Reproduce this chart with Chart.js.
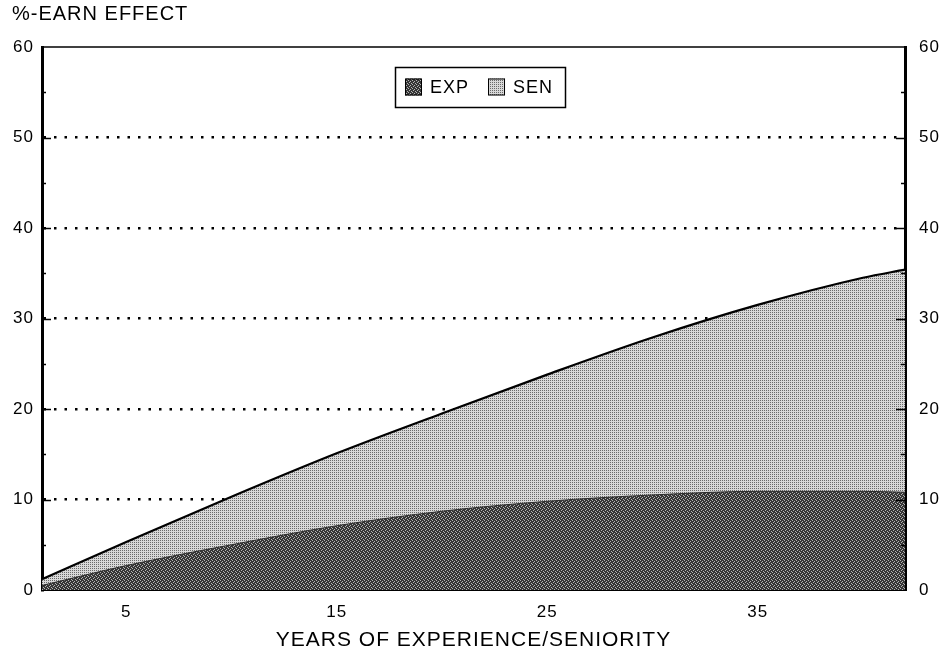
<!DOCTYPE html>
<html><head><meta charset="utf-8">
<script src="https://cdn.jsdelivr.net/npm/chart.js@4/dist/chart.umd.min.js"></script>
<style>html,body{margin:0;padding:0;background:#fff}#wrap{width:951px;height:655px;position:relative}</style>
</head><body><div id="wrap"><canvas id="c"></canvas></div>
<script>
const years = [1, 5, 10, 15, 20, 25, 30, 35, 40, 42];
const expValues = [0.5, 2.7, 5.0, 7.1, 8.7, 9.8, 10.5, 10.9, 10.9, 10.8];
const senValues = [0.7, 2.6, 5.3, 8.0, 10.8, 14.0, 17.4, 20.6, 23.6, 24.6];
const xTickLabels = [5, 15, 25, 35];
const yTickLabels = [0, 10, 20, 30, 40, 50, 60];
const seriesNames = ['EXP', 'SEN'];
const yTitle = '%-EARN EFFECT';
const xTitle = 'YEARS OF EXPERIENCE/SENIORITY';

const FONT = "'Liberation Sans', Arial, Helvetica, sans-serif";
const SPACING = '1px';

function makePattern(size, base, light, cells) {
  const c = document.createElement('canvas');
  c.width = size; c.height = size;
  const g = c.getContext('2d');
  g.fillStyle = base; g.fillRect(0, 0, size, size);
  g.fillStyle = light;
  cells.forEach(([x, y]) => g.fillRect(x, y, 1, 1));
  return g.createPattern(c, 'repeat');
}
const expPattern = makePattern(4, '#363636', '#b4b4b4', [[0,0],[2,1],[1,2],[3,3]]);
const senPattern = makePattern(2, '#d8d8d8', '#6a6a6a', [[0,0]]);
const fills = [expPattern, senPattern];

const pts = vals => years.map((x, i) => ({x, y: vals[i]}));

function setSpacing(chart) { if ('letterSpacing' in chart.ctx) chart.ctx.letterSpacing = SPACING; }

const decorPlugin = {
  id: 'decor',
  beforeUpdate: setSpacing,
  beforeLayout: setSpacing,
  beforeDraw: setSpacing,
  afterDatasetsDraw(chart) {
    const {ctx, chartArea: ca, scales} = chart;
    const y = scales.y;
    ctx.save();
    ctx.strokeStyle = '#000';
    ctx.lineWidth = 1.5;
    for (let v = 5; v < 60; v += 5) {
      const py = Math.round(y.getPixelForValue(v)) + 0.5;
      const len = v % 10 === 0 ? 9 : 4;
      ctx.beginPath(); ctx.moveTo(ca.left, py); ctx.lineTo(ca.left + len, py); ctx.stroke();
      ctx.beginPath(); ctx.moveTo(ca.right, py); ctx.lineTo(ca.right - len, py); ctx.stroke();
    }
    ctx.beginPath(); ctx.moveTo(ca.left, ca.top); ctx.lineTo(ca.right, ca.top); ctx.stroke();
    ctx.restore();
  },
  afterDraw(chart) {
    const {ctx, chartArea: ca} = chart;
    ctx.save();
    ctx.font = '18px ' + FONT;
    ctx.textBaseline = 'middle';
    const sq = 17, gapTxt = 8, gapItem = 19, padX = 10, padR = 12;
    const widths = seriesNames.map(n => ctx.measureText(n).width);
    let inner = 0;
    widths.forEach((w, i) => { inner += sq + gapTxt + w + (i < widths.length - 1 ? gapItem : 0); });
    const boxW = Math.round(inner + padX + padR), boxH = 40;
    const cx = ca.left + (ca.right - ca.left) * 0.508;
    const bx = Math.round(cx - boxW / 2), by = Math.round(ca.top + 20);
    ctx.fillStyle = '#fff';
    ctx.fillRect(bx, by, boxW, boxH);
    ctx.strokeStyle = '#000'; ctx.lineWidth = 1.5;
    ctx.strokeRect(bx + 0.5, by + 0.5, boxW, boxH);
    let x = bx + padX;
    const my = by + boxH / 2;
    seriesNames.forEach((n, i) => {
      ctx.fillStyle = fills[i];
      ctx.fillRect(x, my - sq / 2, sq, sq);
      ctx.lineWidth = 1; ctx.strokeStyle = '#000';
      ctx.strokeRect(x + 0.5, my - sq / 2 + 0.5, sq - 1, sq - 1);
      x += sq + gapTxt;
      ctx.fillStyle = '#000';
      ctx.textAlign = 'left';
      ctx.fillText(n, x, my + 1);
      x += widths[i] + gapItem;
    });
    ctx.restore();
  }
};

new Chart(document.getElementById('c'), {
  type: 'line',
  data: {
    datasets: [
      { label: seriesNames[0], data: pts(expValues), fill: 'origin', backgroundColor: expPattern,
        borderColor: '#2a2a2a', borderWidth: 1, pointRadius: 0, cubicInterpolationMode: 'monotone' },
      { label: seriesNames[1], data: pts(senValues), fill: '-1', backgroundColor: senPattern,
        borderColor: '#000', borderWidth: 2.2, pointRadius: 0, cubicInterpolationMode: 'monotone' }
    ]
  },
  options: {
    responsive: true, maintainAspectRatio: false, animation: false,
    layout: { padding: { left: 12, right: 0, top: 0, bottom: 0 } },
    plugins: {
      legend: { display: false },
      tooltip: { enabled: false },
      title: { display: true, text: yTitle, align: 'start', color: '#000',
        font: { family: FONT, size: 20, weight: 'normal' }, padding: { top: 2, bottom: 21 } }
    },
    scales: {
      x: {
        type: 'linear', min: 1, max: 42,
        afterBuildTicks: s => { s.ticks = xTickLabels.map(v => ({ value: v })); },
        ticks: { color: '#000', font: { family: FONT, size: 17 }, padding: 4, maxRotation: 0 },
        grid: { display: false },
        border: { display: true, color: '#000', width: 2 },
        title: { display: true, text: xTitle, color: '#000', font: { family: FONT, size: 21 }, padding: { top: 2, bottom: 2 } },
        afterFit: s => { s.height = 65; }
      },
      y: {
        stacked: true, min: 0, max: 60, position: 'left',
        ticks: { stepSize: 5, autoSkip: false, color: '#000', font: { family: FONT, size: 17 }, padding: 8,
          callback: v => yTickLabels.includes(v) ? String(v) : '' },
        grid: { drawTicks: false, lineWidth: 2.5,
          color: c => (c.tick && c.tick.value % 10 === 0 && c.tick.value > 0 && c.tick.value < 60) ? '#000' : 'rgba(0,0,0,0)' },
        border: { display: true, color: '#000', width: 3, dash: [2.5, 8], dashOffset: -10 },
        afterFit: s => { s.width = 30; }
      },
      y2: {
        min: 0, max: 60, position: 'right',
        ticks: { stepSize: 5, autoSkip: false, color: '#000', font: { family: FONT, size: 17 }, padding: 14,
          callback: v => yTickLabels.includes(v) ? String(v) : '' },
        grid: { display: false, drawTicks: false },
        border: { display: true, color: '#000', width: 3 },
        afterFit: s => { s.width = 46; }
      }
    }
  },
  plugins: [decorPlugin]
});
</script></body></html>
